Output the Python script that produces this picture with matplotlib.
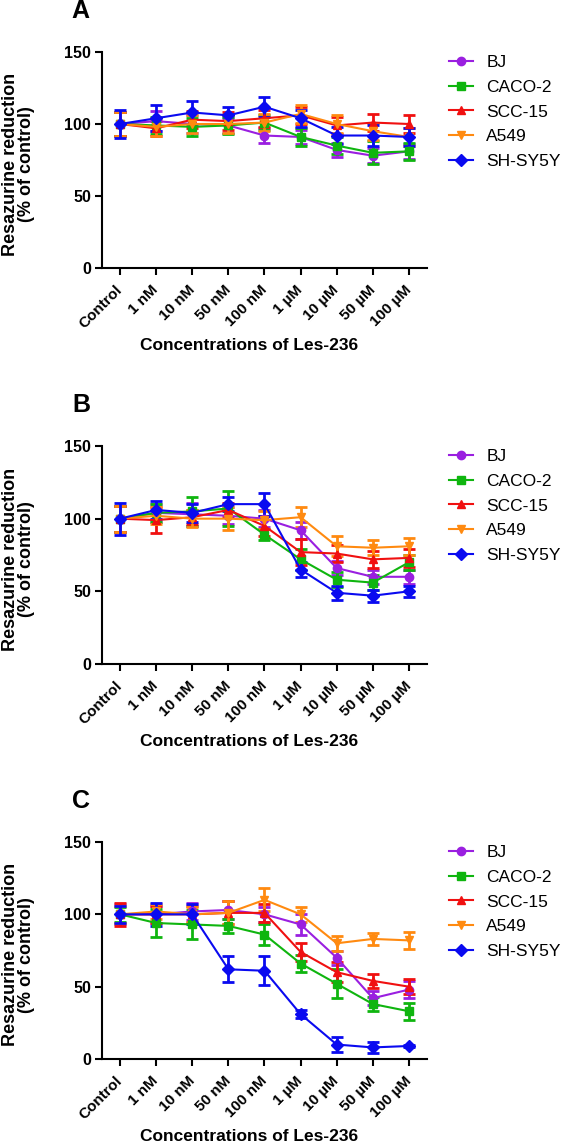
"""Resazurine reduction after Les-236 treatment, three panels."""

import matplotlib.pyplot as plt
import numpy as np
from matplotlib.lines import Line2D

plt.rcParams["font.family"] = ["Liberation Sans", "DejaVu Sans"]

concentrations = ["Control", "1 nM", "10 nM", "50 nM", "100 nM",
                  "1 µM", "10 µM", "50 µM", "100 µM"]
cell_lines = ["BJ", "CACO-2", "SCC-15", "A549", "SH-SY5Y"]
colors = ["#9a1fe0", "#0fb50f", "#f01010", "#ff8a10", "#0a0af0"]
markers = ["o", "s", "^", "v", "D"]
panel_letters = ["A", "B", "C"]

# panel A
a_mean = {
    "BJ":      [100, 102, 100, 99, 92, 91, 82, 78, 81],
    "CACO-2":  [100, 99, 98, 99, 101, 91, 85, 80, 81],
    "SCC-15":  [100, 97, 103, 102, 104, 106, 99, 101, 100],
    "A549":    [100, 98, 100, 100, 101, 107, 100, 95, 91],
    "SH-SY5Y": [100, 104, 108, 106, 112, 104, 92, 92, 91],
}
a_err = {
    "BJ":      [8, 7, 6, 5, 5, 5, 5, 5, 5],
    "CACO-2":  [8, 6, 6, 6, 5, 6, 6, 8, 6],
    "SCC-15":  [8, 5, 6, 6, 6, 6, 6, 6, 6],
    "A549":    [8, 6, 6, 6, 6, 6, 6, 6, 6],
    "SH-SY5Y": [10, 9, 8, 6, 7, 6, 6, 7, 6],
}

# panel B
b_mean = {
    "BJ":      [100, 104, 103, 102, 100, 92, 66, 60, 60],
    "CACO-2":  [100, 104, 105, 107, 89, 72, 58, 56, 70],
    "SCC-15":  [100, 99, 101, 106, 95, 77, 76, 72, 73],
    "A549":    [100, 102, 100, 100, 99, 101, 81, 80, 81],
    "SH-SY5Y": [100, 106, 104, 110, 110, 65, 49, 47, 50],
}
b_err = {
    "BJ":      [9, 6, 8, 6, 6, 6, 5, 5, 5],
    "CACO-2":  [9, 6, 10, 12, 4, 7, 5, 5, 5],
    "SCC-15":  [9, 9, 5, 5, 7, 9, 6, 6, 6],
    "A549":    [9, 6, 6, 8, 6, 7, 7, 5, 6],
    "SH-SY5Y": [11, 6, 6, 5, 8, 5, 5, 4, 4],
}

# panel C
c_mean = {
    "BJ":      [100, 100, 102, 103, 100, 93, 70, 42, 48],
    "CACO-2":  [100, 94, 93, 92, 86, 66, 52, 38, 33],
    "SCC-15":  [100, 100, 100, 101, 101, 74, 60, 54, 50],
    "A549":    [100, 102, 100, 101, 110, 100, 80, 83, 82],
    "SH-SY5Y": [100, 100, 100, 62, 61, 31, 10, 8, 9],
}
c_err = {
    "BJ":      [7, 6, 6, 6, 5, 7, 5, 5, 6],
    "CACO-2":  [5, 10, 10, 5, 7, 6, 10, 5, 6],
    "SCC-15":  [8, 6, 6, 8, 6, 6, 7, 5, 5],
    "A549":    [6, 5, 5, 8, 8, 5, 5, 4, 6],
    "SH-SY5Y": [6, 8, 7, 9, 10, 3, 5, 4, 1],
}

panel_means = [a_mean, b_mean, c_mean]
panel_errs = [a_err, b_err, c_err]

# axes boxes in pixel rows (top, bottom) of a 563x1145 canvas
W, H = 563, 1145
rows = [(52, 268), (446, 664), (842, 1059)]
left_px, right_px = 102, 427
width_px = right_px - left_px

fig = plt.figure(figsize=(W / 100, H / 100), dpi=100)

handles = [Line2D([], [], color=c, marker=m, markersize=6, linewidth=1.5)
           for c, m in zip(colors, markers)]

x = np.arange(len(concentrations))
for k, (top, bottom) in enumerate(rows):
    height_px = bottom - top
    ax = fig.add_axes([left_px / W, 1 - bottom / H,
                       width_px / W, height_px / H])
    means = panel_means[k]
    errs = panel_errs[k]
    for name, color, marker in zip(cell_lines, colors, markers):
        ax.errorbar(x, means[name], yerr=errs[name], color=color,
                    marker=marker, markersize=6, linewidth=1.5,
                    elinewidth=2, capsize=4, capthick=2, label=name,
                    clip_on=False)
    ax.set_xlim(-0.5, 8.5)
    ax.set_ylim(0, 150)
    ax.set_yticks([0, 50, 100, 150])
    ax.set_xticks(x)
    ax.set_xticklabels(concentrations, rotation=45, ha="right", va="center",
                       rotation_mode="anchor", fontweight="bold", fontsize=11)
    for lab in ax.get_yticklabels():
        lab.set_fontweight("bold")
        lab.set_fontsize(11.5)
    ax.spines["top"].set_visible(False)
    ax.spines["right"].set_visible(False)
    ax.spines["left"].set_linewidth(1.5)
    ax.spines["bottom"].set_linewidth(1.5)
    ax.tick_params(direction="out", length=5, width=1.5)
    ax.tick_params(axis="x", pad=9)
    ax.tick_params(axis="y", pad=3)

    ax.set_ylabel("Resazurine reduction\n(% of control)", fontweight="bold",
                  fontsize=13, linespacing=0.95)
    ax.yaxis.set_label_coords((35 - left_px) / width_px, 0.48)
    ax.set_xlabel("Concentrations of Les-236", fontweight="bold",
                  fontsize=12.5)
    ax.xaxis.set_label_coords((249 - left_px) / width_px, -70 / height_px)

    ax.legend(handles, cell_lines, loc="upper left",
              bbox_to_anchor=((449 - left_px) / width_px, 1 - 3 / height_px),
              frameon=False, fontsize=12.5, handlelength=1.4,
              handletextpad=0.75, labelspacing=0.55,
              borderaxespad=0, borderpad=0)
    ax.text(-0.065, 1 + 29 / height_px, panel_letters[k],
            transform=ax.transAxes, fontsize=18, fontweight="bold",
            ha="center", va="bottom")

fig.savefig("out.png", dpi=100)
